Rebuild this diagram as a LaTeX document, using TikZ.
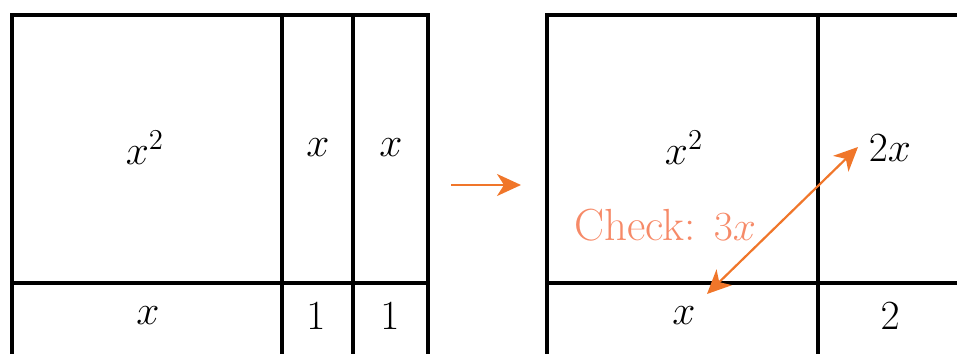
\documentclass[tikz,border=0pt]{standalone}
\usetikzlibrary{arrows.meta}
\definecolor{arr}{RGB}{240,118,42}
\definecolor{chk}{RGB}{246,138,104}
\begin{document}
\begin{tikzpicture}[x=0.5pt,y=-0.5pt,
  grid/.style={line width=1.6pt,black},
  lbl/.style={font=\fontsize{21}{25}\selectfont,inner sep=0pt},
  tipa/.tip={Stealth[length=12pt,width=11pt,inset=3.5pt]},
  orng/.style={arr,line width=1.1pt}]
\useasboundingbox (0,0) rectangle (957,353);
\clip (0,0) rectangle (957,353);
% left grid
\draw[grid] (12,400) -- (12,15) -- (428,15) -- (428,400);
\draw[grid] (282,15) -- (282,400);
\draw[grid] (353,15) -- (353,400);
\draw[grid] (12,283) -- (428,283);
% right grid
\draw[grid] (547,400) -- (547,15) -- (980,15);
\draw[grid] (818,15) -- (818,400);
\draw[grid] (547,283) -- (980,283);
% labels left
\node[lbl] (la) at (145,148) {$x^2$};
\node[lbl] (lb) at (318,148) {$x$};
\node[lbl] (lc) at (391,148) {$x$};
\node[lbl] (ld) at (148,316) {$x$};
\node[lbl] (le) at (316,316) {$1$};
\node[lbl] (lf) at (390,316) {$1$};
% transition arrow
\coordinate (a1) at (451,185);
\coordinate (a2) at (521,185);
\draw[orng,-tipa] (a1) -- (a2);
% labels right
\node[lbl] (ra) at (684,148) {$x^2$};
\node[lbl] (rb) at (890,148) {$2x$};
\node[lbl] (rc) at (684,316) {$x$};
\node[lbl] (rd) at (890,316) {$2$};
\node[lbl,text=chk,font=\fontsize{22.5}{26}\selectfont] (chk) at (665,225) {Check: $3x$};
\coordinate (p1) at (707,294);
\coordinate (p2) at (858,147);
\draw[orng,tipa-tipa] (p1) -- (p2);
\end{tikzpicture}
\end{document}
